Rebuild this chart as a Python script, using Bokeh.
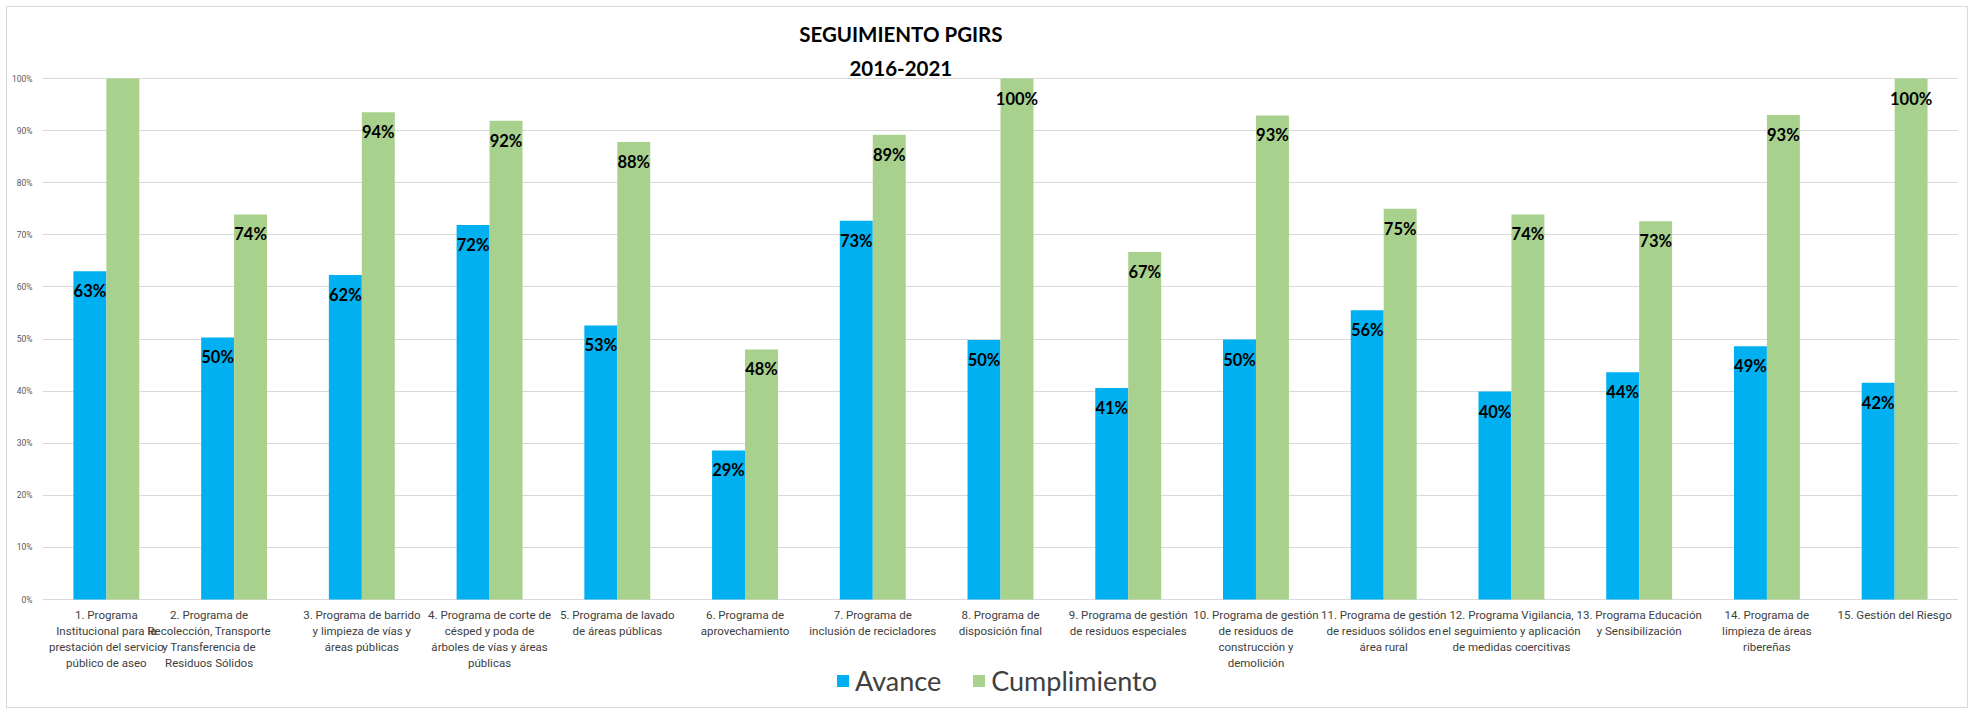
from bokeh.plotting import figure
from bokeh.models import (FactorRange, Range1d, Label, ColumnDataSource,
                          Legend, LegendItem, NumeralTickFormatter, FixedTicker)
from bokeh.transform import dodge
from bokeh.embed import file_html
from bokeh.resources import INLINE
from bokeh.core.properties import value

# ---------------- data ----------------
categories = [
    "1. Programa\nInstitucional para la\nprestación del servicio\npúblico de aseo",
    "2. Programa de\nRecolección, Transporte\ny Transferencia de\nResiduos Sólidos",
    "3. Programa de barrido\ny limpieza de vías y\náreas públicas",
    "4. Programa de corte de\ncésped y poda de\nárboles de vías y áreas\npúblicas",
    "5. Programa de lavado\nde áreas públicas",
    "6. Programa de\naprovechamiento",
    "7. Programa de\ninclusión de recicladores",
    "8. Programa de\ndisposición final",
    "9. Programa de gestión\nde residuos especiales",
    "10. Programa de gestión\nde residuos de\nconstrucción y\ndemolición",
    "11. Programa de gestión\nde residuos sólidos en\nárea rural",
    "12. Programa Vigilancia,\nel seguimiento y aplicación\nde medidas coercitivas",
    "13. Programa Educación\ny Sensibilización",
    "14. Programa de\nlimpieza de áreas\nribereñas",
    "15. Gestión del Riesgo",
]
avance = [0.630, 0.503, 0.623, 0.719, 0.526, 0.286, 0.727, 0.498, 0.406, 0.499,
          0.555, 0.399, 0.436, 0.486, 0.416]
cumplimiento = [1.000, 0.739, 0.935, 0.919, 0.878, 0.480, 0.892, 1.000, 0.667, 0.929,
                0.750, 0.739, 0.726, 0.930, 1.000]
# data label shown for each bar (the first Cumplimiento bar has no label)
cumplimiento_label_visible = [False] + [True] * 14
y_ticks = [0.0, 0.1, 0.2, 0.3, 0.4, 0.5, 0.6, 0.7, 0.8, 0.9, 1.0]
series_names = ["Avance", "Cumplimiento"]
title_lines = ["SEGUIMIENTO PGIRS", "2016-2021"]

BLUE = "#00B0F0"
GREEN = "#A9D18E"

def pct(v):
    return f"{int(round(v * 100))}%"

# horizontal nudge (px) of each category label, as laid out in the original
label_dx = [0, -25, 0, 0, 0, 0, 0, 0, 0, 0, 0, 0, 0, 0, 0]

src = ColumnDataSource(dict(
    cat=categories,
    zero=[0.0] * len(categories),
    avance=avance,
    cumplimiento=cumplimiento,
    avance_lbl=[pct(v) for v in avance],
    cumpl_lbl=[pct(v) if s else "" for v, s in zip(cumplimiento, cumplimiento_label_visible)],
    dx=label_dx,
))

# ---------------- layout (pixels) ----------------
ORIGIN = 7                      # page offset of the canvas (6px margin + 1px border)
W, H = 1962, 702
FRAME_LEFT, FRAME_RIGHT = 42 - ORIGIN, 1958 - ORIGIN
Y100_PX, Y0_PX = 78 - ORIGIN, 599 - ORIGIN
px_per_unit = Y0_PX - Y100_PX
y_top = 1 + Y100_PX / px_per_unit
y_bottom = -(H - Y0_PX) / px_per_unit

p = figure(
    x_range=FactorRange(factors=categories, range_padding=0),
    y_range=Range1d(y_bottom, y_top),
    width=W, height=H,
    output_backend="svg", toolbar_location=None,
    min_border_left=FRAME_LEFT, min_border_right=W - FRAME_RIGHT,
    min_border_top=0, min_border_bottom=0,
)
p.styles = {"border": "1px solid #D9D9D9", "margin-left": "6px", "margin-top": "6px"}
p.title.visible = False
p.outline_line_color = None
p.background_fill_color = "white"
p.border_fill_color = "white"

bw = 0.258
r1 = p.vbar(x=dodge("cat", -bw / 2, range=p.x_range), top="avance", bottom=0, width=bw,
            source=src, fill_color=BLUE, line_color=None)
r2 = p.vbar(x=dodge("cat", bw / 2, range=p.x_range), top="cumplimiento", bottom=0, width=bw,
            source=src, fill_color=GREEN, line_color=None)

# data labels inside the top of bars
for off, col in ((-bw / 2, "avance"), (bw / 2, "cumplimiento")):
    p.text(x=dodge("cat", off, range=p.x_range), y=col,
           text="avance_lbl" if col == "avance" else "cumpl_lbl",
           source=src, y_offset=20, text_align="center", text_baseline="middle",
           text_font=value("Lato"), text_font_style="bold", text_font_size="16.5px",
           text_color="black")

# category labels under the 0% line
p.text(x="cat", y="zero", text="cat", source=src, y_offset=8, x_offset="dx",
       text_align="center", text_baseline="top",
       text_font=value("Roboto"), text_font_size="11.5px",
       text_color="#404040", text_line_height=1.15)

# axes
p.xaxis.visible = False
p.xgrid.visible = False
p.yaxis.ticker = FixedTicker(ticks=y_ticks)
p.yaxis.formatter = NumeralTickFormatter(format="0%")
p.yaxis.axis_line_color = None
p.yaxis.major_tick_line_color = None
p.yaxis.minor_tick_line_color = None
p.yaxis.major_label_text_font = "Roboto"
p.yaxis.major_label_text_font_size = "8.5px"
p.yaxis.major_label_text_color = "#595959"
p.yaxis.major_label_standoff = 4
p.ygrid.grid_line_color = "#D9D9D9"
p.ygrid.grid_line_width = 1

# title (two lines)
p.add_layout(Label(x=6.72, y=1.0, y_offset=45, text=title_lines[0], text_align="center",
                   text_baseline="middle", text_font="Lato", text_font_style="bold",
                   text_font_size="20.5px", text_color="black"))
p.add_layout(Label(x=6.72, y=1.0, y_offset=10, text=title_lines[1], text_align="center",
                   text_baseline="middle", text_font="Lato", text_font_style="bold",
                   text_font_size="20.5px", text_color="black"))

legend = Legend(items=[LegendItem(label=series_names[0], renderers=[r1]),
                       LegendItem(label=series_names[1], renderers=[r2])],
                orientation="horizontal", location=(793, 12),
                glyph_width=15, glyph_height=15, label_standoff=5, spacing=30,
                padding=0, margin=0, border_line_color=None,
                background_fill_alpha=0,
                label_text_font="Lato", label_text_font_size="27px",
                label_text_color="#404040")
p.add_layout(legend)

open("out.html", "w").write(file_html(p, INLINE))
